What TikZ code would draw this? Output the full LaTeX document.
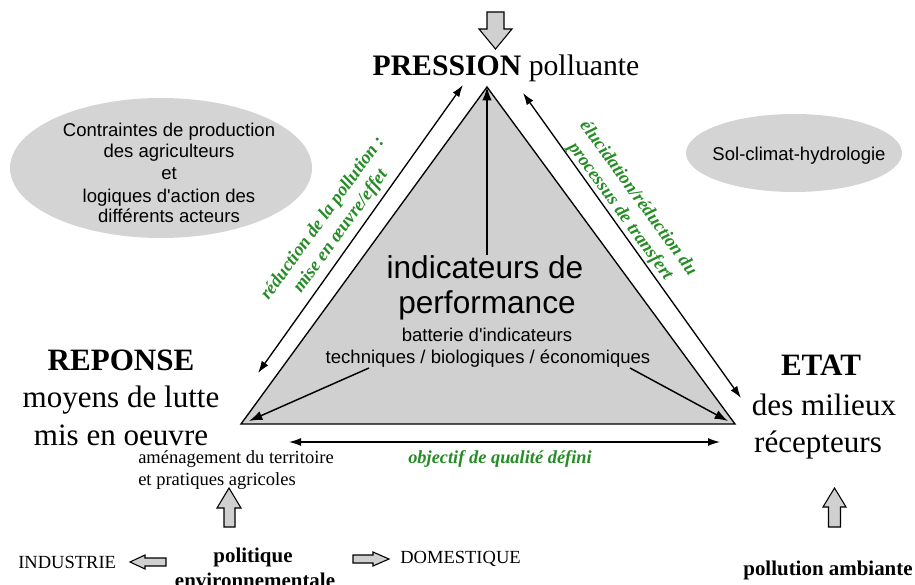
\documentclass[tikz,border=0pt]{standalone}
\usepackage{fontspec}
\setmainfont{Liberation Serif}
\newfontfamily\sansfam{Liberation Sans}
\usetikzlibrary{arrows.meta,shapes.geometric}
\definecolor{trifill}{RGB}{208,208,208}
\definecolor{ovalfill}{RGB}{212,212,212}
\definecolor{labelgreen}{RGB}{38,140,38}
\begin{document}
\begin{tikzpicture}[x=0.75pt,y=-0.75pt,
  txt/.style={inner sep=0pt,anchor=base},
  sansbig/.style={txt,font=\sansfam\fontsize{23.7}{26}\selectfont},
  sanssmall/.style={txt,font=\sansfam\fontsize{13.9}{16}\selectfont},
  serifbig/.style={txt,font=\fontsize{23.3}{28}\selectfont},
  seriftitle/.style={txt,font=\fontsize{22.3}{27}\selectfont},
  serifsmall/.style={txt,font=\fontsize{13.9}{16.5}\selectfont},
  serifmid/.style={txt,font=\fontsize{15.7}{19}\selectfont\bfseries},
  greenlabel/.style={inner sep=0pt,align=center,text=labelgreen,
    font=\fontsize{13.8}{16.5}\selectfont\bfseries\itshape},
  oval/.style={ellipse,fill=ovalfill,inner sep=0pt},
  link/.style={line width=1.1pt,-{Latex[length=10pt,width=7pt]}},
  both/.style={line width=1pt,{Latex[length=9pt,width=6pt]}-{Latex[length=9pt,width=6pt]}},
  blockarrow/.style={draw=black,fill=trifill,line width=0.8pt,line join=miter}
]
\useasboundingbox (0,0) rectangle (915,585);
\clip (0,0) rectangle (915,585);
\fill[white] (0,0) rectangle (915,585);

% background ovals
\node[oval,minimum width=226.5pt,minimum height=105pt] (contraintes) at (161,168) {};
\node[sanssmall] (c1) at (169,137) {Contraintes de production};
\node[sanssmall] (c2) at (169,157) {des agriculteurs};
\node[sanssmall] (c3) at (169,179.5) {et};
\node[sanssmall] (c4) at (169,202) {logiques d'action des};
\node[sanssmall] (c5) at (169,223) {différents acteurs};

\node[oval,minimum width=162pt,minimum height=58.5pt] (milieu) at (794,153) {};
\node[sanssmall] (sol) at (799,161) {Sol-climat-hydrologie};

% central triangle
\coordinate (A) at (487,87);
\coordinate (L) at (241,424);
\coordinate (R) at (735,424);
\draw[fill=trifill,line width=1pt,line join=miter] (A) -- (L) -- (R) -- cycle;

\node[sansbig] (ind1) at (485,278) {indicateurs de};
\node[sansbig] (ind2) at (487,313) {performance};
\node[sanssmall] (bat1) at (487,341) {batterie d'indicateurs};
\node[sanssmall] (bat2) at (488,363) {techniques / biologiques / économiques};

\coordinate (Ltip) at (249,421);
\coordinate (Rtip) at (728,421);
\coordinate (Lstart) at (369,368);
\coordinate (Rstart) at (630,368);
\draw[link] (A |- ind1.north) -- (A);
\draw[link] (Lstart) -- (Ltip);
\draw[link] (Rstart) -- (Rtip);

% pole labels
\node[seriftitle] (pression) at (506,76) {\textbf{PRESSION} polluante};

\node[serifbig] (rep1) at (121,370) {\textbf{REPONSE}};
\node[serifbig] (rep2) at (121,407) {moyens de lutte};
\node[serifbig] (rep3) at (121,445) {mis en oeuvre};
\node[serifsmall,anchor=base west] (amen1) at (138,463) {aménagement du territoire};
\node[serifsmall,anchor=base west] (amen2) at (138,485) {et pratiques agricoles};

\node[serifbig] (etat1) at (821,375) {\textbf{ETAT}};
\node[serifbig] (etat2) at (824,415) {des milieux};
\node[serifbig] (etat3) at (818,452) {récepteurs};
\node[serifmid] (ambiante) at (828,575) {pollution ambiante};

\node[serifmid] (pol1) at (253,562) {politique};
\node[serifmid] (pol2) at (255,587) {environnementale};
\node[serifsmall,anchor=base west] (industrie) at (18,568) {INDUSTRIE};
\node[serifsmall,anchor=base west] (domestique) at (400,563) {DOMESTIQUE};

% side arrows along the triangle
\coordinate (lsA) at (258,373);
\coordinate (lsB) at (463,85);
\coordinate (rsA) at (523,93);
\coordinate (rsB) at (741,398);
\coordinate (bsA) at (289,442);
\coordinate (bsB) at (720,442);
\draw[both] (lsA) -- (lsB);
\draw[both] (rsA) -- (rsB);
\draw[both] (bsA) -- (bsB);

\node[greenlabel,rotate=54] (lblreduc) at (332,225) {réduction de la pollution :\\mise en œuvre/effet};
\node[greenlabel,rotate=-54] (lbleluc) at (629,205) {élucidation/réduction du\\processus de transfert};
\node[greenlabel,anchor=base] (lblobj) at (500,463) {objectif de qualité défini};

% block arrows
\draw[blockarrow] (487,12) -- (504,12) -- (504,29) -- (512,29) -- (495.5,49)
  -- (479,29) -- (487,29) -- cycle;
\draw[blockarrow] (224,527) -- (224,508) -- (217,508) -- (229,488) -- (241,508)
  -- (235,508) -- (235,527) -- cycle;
\draw[blockarrow] (828.5,527) -- (828.5,507) -- (823,507) -- (834.5,488) -- (846,507)
  -- (840.5,507) -- (840.5,527) -- cycle;
\draw[blockarrow] (166,558) -- (145,558) -- (145,555) -- (130,562) -- (145,569)
  -- (145,566) -- (166,566) -- cycle;
\draw[blockarrow] (353,555) -- (373,555) -- (373,552) -- (389,559) -- (373,566)
  -- (373,563) -- (353,563) -- cycle;
\end{tikzpicture}
\end{document}
